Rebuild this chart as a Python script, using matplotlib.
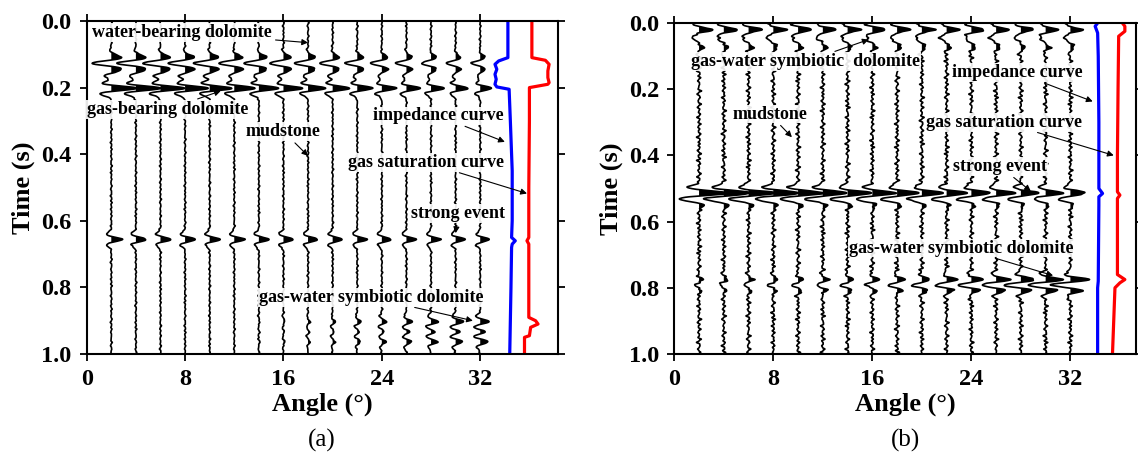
"""
Synthetic angle gathers (a) and (b) with impedance and gas saturation curves.
"""

import numpy as np
import matplotlib.pyplot as plt

plt.rcParams['font.family'] = ['Liberation Serif', 'DejaVu Serif']

angles = [2, 4, 6, 8, 10, 12, 14, 16, 18, 20, 22, 24, 26, 28, 30, 32]

# reflection spikes (time s, relative coefficient) for each event
gas_spikes_a = [(0.105, 0.25), (0.127, -1.5), (0.165, -0.55), (0.202, 2.1)]
mid_spikes_a = [(0.656, 1.0)]
deep_spikes_a = [(0.903, 1.0), (0.933, 0.6), (0.963, 0.9)]

top_spikes_b = [(0.02, 1.1), (0.048, -0.35), (0.075, 0.3)]
strong_spikes_b = [(0.513, 2.0), (0.534, -0.9)]
deep_spikes_b = [(0.775, 1.0), (0.792, -0.75), (0.808, 0.6)]

# amplitude of each event against angle
gas_amp_a = [1.0, 0.97, 0.93, 0.89, 0.85, 0.81, 0.77, 0.73, 0.69, 0.65, 0.61, 0.57, 0.54, 0.5, 0.47, 0.44]
mid_amp_a = [0.85, 0.85, 0.84, 0.84, 0.83, 0.82, 0.82, 0.81, 0.8, 0.79, 0.78, 0.77, 0.76, 0.75, 0.74, 0.73]
deep_amp_a = [0, 0, 0, 0, 0, 0, 0.05, 0.1, 0.15, 0.2, 0.3, 0.38, 0.48, 0.58, 0.66, 0.75]

top_amp_b = [0.95, 0.95, 0.95, 0.94, 0.94, 0.93, 0.93, 0.92, 0.92, 0.91, 0.9, 0.9, 0.89, 0.88, 0.88, 0.87]
strong_amp_b = [1.0, 0.97, 0.94, 0.91, 0.88, 0.85, 0.82, 0.79, 0.76, 0.73, 0.7, 0.67, 0.64, 0.61, 0.58, 0.55]
deep_amp_b = [0.2, 0.22, 0.25, 0.28, 0.3, 0.32, 0.35, 0.4, 0.45, 0.5, 0.6, 0.7, 0.8, 0.9, 1.0, 1.1]

# weak background reflectivity (one value every 0.01 s)
noise = [0.3, -0.6, 0.8, -0.2, -0.9, 0.5, 0.1, -0.4, 0.7, -0.8,
         0.2, 0.6, -0.5, -0.1, 0.9, -0.7, 0.4, -0.3, 0.0, 0.8,
         -0.6, 0.2, 0.5, -0.9, 0.3, 0.7, -0.2, -0.5, 0.6, -0.1,
         0.9, -0.4, -0.8, 0.1, 0.5, -0.3, 0.7, -0.6, 0.2, -0.9,
         0.4, 0.8, -0.1, -0.7, 0.3, 0.6, -0.5, 0.0, -0.8, 0.5,
         0.2, -0.3, 0.9, -0.6, -0.2, 0.7, -0.4, 0.1, 0.8, -0.9,
         0.3, -0.5, 0.6, -0.1, -0.7, 0.4, 0.9, -0.3, 0.2, -0.8,
         0.5, -0.2, -0.6, 0.8, 0.1, -0.4, 0.7, -0.9, 0.3, 0.6,
         -0.5, 0.2, -0.1, 0.9, -0.7, 0.4, -0.3, 0.8, -0.6, 0.0,
         0.5, -0.8, 0.1, 0.7, -0.4, -0.2, 0.6, -0.9, 0.3, 0.4]

# impedance (blue) and gas saturation (red) curves
imp_t_a = [0.0, 0.11, 0.12, 0.13, 0.145, 0.16, 0.175, 0.19, 0.198, 0.205, 0.3, 0.45, 0.6, 0.65, 0.66, 0.67, 0.68, 0.8, 1.0]
imp_x_a = [34.25, 34.25, 33.5, 33.2, 33.35, 33.2, 33.3, 33.2, 33.35, 34.35, 34.45, 34.6, 34.6, 34.55, 34.85, 34.6, 34.55, 34.5, 34.4]
sat_t_a = [0.0, 0.11, 0.118, 0.13, 0.15, 0.17, 0.185, 0.19, 0.2, 0.3, 0.5, 0.65, 0.66, 0.67, 0.89, 0.9, 0.91, 0.92, 0.945, 0.95, 1.0]
sat_x_a = [36.2, 36.2, 37.3, 37.6, 37.5, 37.5, 37.6, 37.5, 36.0, 36.0, 35.95, 35.95, 35.8, 35.95, 35.95, 36.5, 36.7, 36.1, 36.0, 35.6, 35.6]

imp_t_b = [0.0, 0.01, 0.03, 0.1, 0.3, 0.5, 0.515, 0.525, 0.55, 0.78, 0.8, 1.0]
imp_x_b = [34.2, 34.0, 34.2, 34.25, 34.3, 34.3, 34.6, 34.3, 34.3, 34.25, 34.2, 34.2]
sat_t_b = [0.0, 0.01, 0.025, 0.04, 0.2, 0.4, 0.51, 0.52, 0.53, 0.76, 0.775, 0.785, 0.8, 0.9, 1.0]
sat_x_b = [36.2, 36.4, 36.4, 35.9, 35.85, 35.8, 35.8, 36.0, 35.8, 35.8, 36.4, 36.0, 35.6, 35.5, 35.4]

t = np.linspace(0, 1, 2001)
noise_t = np.linspace(0.005, 0.995, len(noise))


def ricker(tt, f):
    a = (np.pi * f * tt) ** 2
    return (1 - 2 * a) * np.exp(-a)


def draw_gather(ax, events, noise_scale, shift):
    for k, ang in enumerate(angles):
        tr = np.zeros_like(t)
        for spikes, amps in events:
            for t0, c in spikes:
                tr += c * amps[k] * ricker(t - t0, 24)
        nz = np.roll(noise, shift * k + shift)
        for t0, c in zip(noise_t, nz):
            tr += noise_scale * c * ricker(t - t0, 75)
        x = ang + tr
        ax.plot(x, t, color='k', lw=1.2)
        ax.fill_betweenx(t, ang, x, where=x > ang, color='k', lw=0, interpolate=True)


def note(ax, text, xy, xytext):
    ax.annotate(text, xy=xy, xytext=xytext, ha='center', va='center',
                fontsize=13, fontweight='bold',
                bbox=dict(boxstyle='square,pad=0.05', fc='white', ec='none', alpha=0.9),
                arrowprops=dict(arrowstyle='-|>', color='k', lw=0.8,
                                mutation_scale=9, shrinkA=2, shrinkB=0))


def style(ax, xmax, tag):
    ax.set_xlim(0, xmax)
    ax.set_ylim(1, 0)
    ax.set_xticks([0, 8, 16, 24, 32])
    ax.set_yticks([0.0, 0.2, 0.4, 0.6, 0.8, 1.0])
    ax.set_yticklabels(['0.0', '0.2', '0.4', '0.6', '0.8', '1.0'])
    ax.tick_params(direction='out', top=True, right=True, length=5, width=1.3,
                   labelsize=17.5, pad=6)
    for lab in ax.get_xticklabels() + ax.get_yticklabels():
        lab.set_fontweight('bold')
    for sp in ax.spines.values():
        sp.set_linewidth(1.5)
    ax.set_xlabel('Angle (°)', fontsize=19, fontweight='bold', labelpad=2)
    ax.set_ylabel('Time (s)', fontsize=19, fontweight='bold', labelpad=4)
    ax.text(0.5, -0.26, tag, transform=ax.transAxes, ha='center', va='center',
            fontsize=18)


fig = plt.figure(figsize=(11.38, 4.65), dpi=100)
ax1 = fig.add_axes([86.7 / 1138, 111 / 465, 471 / 1138, 333 / 465])
ax2 = fig.add_axes([674.3 / 1138, 111 / 465, 461.7 / 1138, 331 / 465])

# panel (a)
draw_gather(ax1, [(gas_spikes_a, gas_amp_a), (mid_spikes_a, mid_amp_a),
                  (deep_spikes_a, deep_amp_a)], 0.09, 13)
ax1.plot(imp_x_a, imp_t_a, color='blue', lw=2.3)
ax1.plot(sat_x_a, sat_t_a, color='red', lw=2.3)
style(ax1, 38.3, '(a)')
note(ax1, 'water-bearing dolomite', (18.0, 0.065), (7.75, 0.034))
note(ax1, 'gas-bearing dolomite', (10.9, 0.21), (6.6, 0.265))
note(ax1, 'mudstone', (18.0, 0.405), (16.0, 0.332))
note(ax1, 'impedance curve', (34.0, 0.363), (28.6, 0.285))
note(ax1, 'gas saturation curve', (35.8, 0.518), (27.6, 0.425))
note(ax1, 'strong event', (30.0, 0.637), (30.2, 0.577))
note(ax1, 'gas-water symbiotic dolomite', (31.4, 0.90), (23.1, 0.83))

# panel (b)
draw_gather(ax2, [(top_spikes_b, top_amp_b), (strong_spikes_b, strong_amp_b),
                  (deep_spikes_b, deep_amp_b)], 0.22, 37)
ax2.plot(imp_x_b, imp_t_b, color='blue', lw=2.3)
ax2.plot(sat_x_b, sat_t_b, color='red', lw=2.3)
style(ax2, 37.3, '(b)')
note(ax2, 'gas-water symbiotic  dolomite', (15.7, 0.05), (10.6, 0.117))
note(ax2, 'mudstone', (9.5, 0.345), (7.7, 0.275))
note(ax2, 'impedance curve', (33.8, 0.237), (27.7, 0.15))
note(ax2, 'gas saturation curve', (35.5, 0.40), (26.6, 0.30))
note(ax2, 'strong event', (28.8, 0.508), (26.3, 0.433))
note(ax2, 'gas-water symbiotic dolomite', (30.6, 0.763), (23.2, 0.68))

fig.savefig('out.png', dpi=100)
